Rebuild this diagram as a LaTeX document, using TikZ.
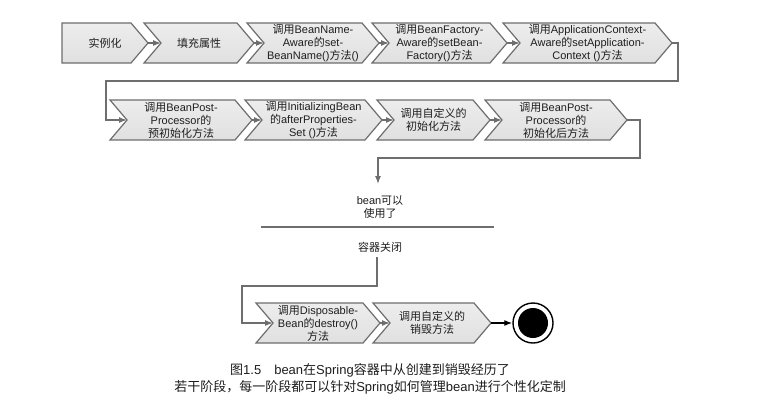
\documentclass[tikz,border=0pt]{standalone}
\usepackage{fontspec}
\setmainfont{Liberation Sans}
\newfontfamily\cjk{Noto Sans CJK SC}
\newcommand\zh[1]{{\cjk #1}}
\usetikzlibrary{arrows.meta}
\definecolor{edgegray}{HTML}{6E6E6E}
\definecolor{filltop}{HTML}{EDEDED}
\definecolor{fillbot}{HTML}{E0E0E0}
\definecolor{txtc}{HTML}{1E1E1E}
\tikzset{
  chev/.style={draw=edgegray, line width=1.2bp, top color=filltop, bottom color=fillbot},
  txt/.style={align=center, text=txtc, font=\fontsize{11bp}{13bp}\selectfont, inner sep=0pt},
  conn/.style={draw=edgegray, line width=1.3bp},
  arr/.style={conn, -{Latex[length=8pt,width=6pt]}},
  captxt/.style={align=center, text=txtc, font=\fontsize{13bp}{17bp}\selectfont, inner sep=0pt}
}
% name, x1, x2, ytop, text  (with notch)
\newcommand\chevron[5]{%
  \draw[chev] (#2,#4) -- (#3,#4) -- (#3+17,#4+20) -- (#3,#4+40) -- (#2,#4+40) -- (#2+17,#4+20) -- cycle;
  \coordinate (#1-in) at (#2+17,#4+20);
  \coordinate (#1-out) at (#3+17,#4+20);
  \node[txt] (#1) at ({(#2+#3+17)/2},#4+20) {#5};
}
\newcommand\chevfirst[5]{%
  \draw[chev] (#2,#4) -- (#3,#4) -- (#3+17,#4+20) -- (#3,#4+40) -- (#2,#4+40) -- cycle;
  \coordinate (#1-out) at (#3+17,#4+20);
  \node[txt] (#1) at ({(#2+#3+17)/2},#4+20) {#5};
}
\begin{document}
\begin{tikzpicture}[x=1bp,y=-1bp]
\useasboundingbox[fill=white] (0,0) rectangle (778,407);
% row 1
\chevfirst{a1}{62}{131}{23}{\zh{实例化}}
\chevron{a2}{144}{237}{23}{\zh{填充属性}}
\chevron{a3}{247}{362}{23}{\zh{调用}BeanName-\\Aware\zh{的}set-\\BeanName()\zh{方法}()}
\chevron{a4}{372}{490}{23}{\zh{调用}BeanFactory-\\Aware\zh{的}setBean-\\Factory()\zh{方法}}
\chevron{a5}{503}{655}{23}{\zh{调用}ApplicationContext-\\Aware\zh{的}setApplication-\\Context ()\zh{方法}}
% row 2
\chevron{b1}{110}{235}{100}{\zh{调用}BeanPost-\\Processor\zh{的}\\\zh{预初始化方法}}
\chevron{b2}{245}{365}{100}{\zh{调用}InitializingBean\\\zh{的}afterProperties-\\Set ()\zh{方法}}
\chevron{b3}{377}{473}{100}{\zh{调用自定义的}\\\zh{初始化方法}}
\chevron{b4}{485}{610}{100}{\zh{调用}BeanPost-\\Processor\zh{的}\\\zh{初始化后方法}}
% bottom row
\chevron{c1}{256}{363}{303}{\zh{调用}Disposable-\\Bean\zh{的}destroy()\\\zh{方法}}
\chevron{c2}{373}{474}{303}{\zh{调用自定义的}\\\zh{销毁方法}}
% connectors
\draw[arr] (a1-out) -- (a2-in);
\draw[arr] (a2-out) -- (a3-in);
\draw[arr] (a3-out) -- (a4-in);
\draw[arr] (a4-out) -- (a5-in);
\draw[arr] (a5-out) -- ++(6,0) |- (106,81) |- (b1-in);
\draw[arr] (b1-out) -- (b2-in);
\draw[arr] (b2-out) -- (b3-in);
\draw[arr] (b3-out) -- (b4-in);
\coordinate (downend) at (378,184);
\draw[arr] (b4-out) -- ++(13,0) |- (378,158) -- (downend);
\node[txt] (ready) at (380,207) {bean\zh{可以}\\\zh{使用了}};
\coordinate (sepL) at (261,227);
\coordinate (sepR) at (494,227);
\draw[conn] (sepL) -- (sepR);
\node[txt] (close) at (380,247) {\zh{容器关闭}};
\draw[arr] (377,257) |- (242,286) |- (c1-in);
\draw[arr] (c1-out) -- (c2-in);
\node[circle, draw=black, line width=1.4bp, fill=white, minimum size=40bp, inner sep=0pt] (endc) at (533,323) {};
\node[circle, fill=black, minimum size=30bp, inner sep=0pt] (endin) at (endc) {};
\draw[arr, draw=black] (c2-out) -- (endc.west);
% caption
\node[captxt] (caption) at (370,379) {\zh{图}1.5\quad bean\zh{在}Spring\zh{容器中从创建到销毁经历了}\\\zh{若干阶段，每一阶段都可以针对}Spring\zh{如何管理}bean\zh{进行个性化定制}};
\end{tikzpicture}
\end{document}
